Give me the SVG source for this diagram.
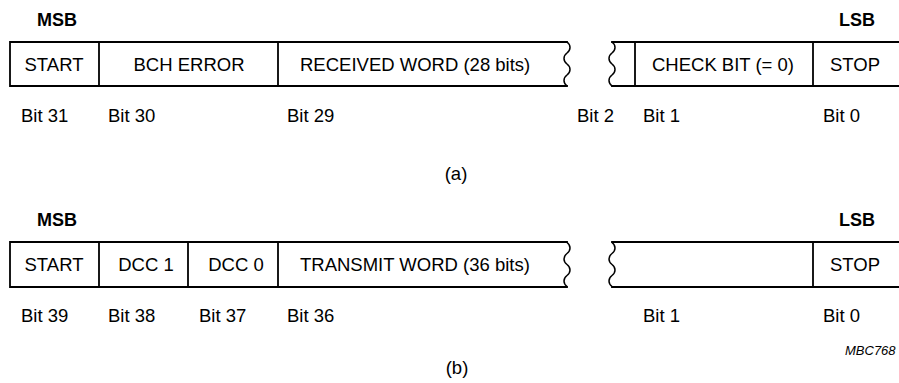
<svg xmlns="http://www.w3.org/2000/svg" width="899" height="383" viewBox="0 0 899 383">
<style>
.ln{fill:none;stroke:#000;stroke-width:1.8;stroke-linecap:square}
.wv{fill:none;stroke:#000;stroke-width:1.5}
text{font-family:"Liberation Sans",Arial,sans-serif;font-size:18.5px;fill:#000}
.b{font-weight:bold;font-size:18px}
.m{text-anchor:middle}
.it{font-style:italic;font-size:13px}
</style>
<rect width="899" height="383" fill="#fff"/>
<defs>
<path id="wave" d="M0,0 c4,3 4,8 0,11 s-4,8 0,11 s4,8 0,11 s-4,8 0,11"/>
</defs>
<g id="frame-a">
<text class="b" x="37" y="26">MSB</text>
<text class="b" x="839" y="26">LSB</text>
<g id="a-left">
<path class="ln" d="M567,42 H10 V86 H567"/>
<use href="#wave" class="wv" x="567" y="42"/>
<line class="ln" x1="99" y1="42" x2="99" y2="86"/>
<line class="ln" x1="278" y1="42" x2="278" y2="86"/>
</g>
<g id="a-right">
<path class="ln" d="M612,42 H905 M612,86 H905"/>
<use href="#wave" class="wv" x="612" y="42"/>
<line class="ln" x1="635" y1="42" x2="635" y2="86"/>
<line class="ln" x1="813" y1="42" x2="813" y2="86"/>
</g>
<g id="a-start"><text class="m" x="54" y="70.5">START</text></g>
<g id="a-bch"><text class="m" x="189" y="70.5">BCH ERROR</text></g>
<g id="a-recv"><text x="300" y="70.5">RECEIVED WORD (28 bits)</text></g>
<g id="a-check"><text class="m" x="723" y="70.5">CHECK BIT (= 0)</text></g>
<g id="a-stop"><text x="830" y="70.5">STOP</text></g>
<text x="21" y="121.5">Bit 31</text>
<text x="108" y="121.5">Bit 30</text>
<text x="287" y="121.5">Bit 29</text>
<text x="577" y="121.5">Bit 2</text>
<text x="643" y="121.5">Bit 1</text>
<text x="823" y="121.5">Bit 0</text>
<text class="m" x="456" y="180">(a)</text>
</g>
<g id="frame-b">
<text class="b" x="37" y="226">MSB</text>
<text class="b" x="839" y="226">LSB</text>
<g id="b-left">
<path class="ln" d="M567,242 H10 V287 H567"/>
<use href="#wave" class="wv" x="567" y="242.5"/>
<line class="ln" x1="99" y1="242" x2="99" y2="287"/>
<line class="ln" x1="188" y1="242" x2="188" y2="287"/>
<line class="ln" x1="278" y1="242" x2="278" y2="287"/>
</g>
<g id="b-right">
<path class="ln" d="M612,242 H905 M612,287 H905"/>
<use href="#wave" class="wv" x="612" y="242.5"/>
<line class="ln" x1="813" y1="242" x2="813" y2="287"/>
</g>
<g id="b-start"><text class="m" x="54" y="271">START</text></g>
<g id="b-dcc1"><text class="m" x="146" y="271">DCC 1</text></g>
<g id="b-dcc0"><text class="m" x="236" y="271">DCC 0</text></g>
<g id="b-trans"><text x="300" y="271">TRANSMIT WORD (36 bits)</text></g>
<g id="b-stop"><text x="830" y="271">STOP</text></g>
<text x="21" y="321.5">Bit 39</text>
<text x="108" y="321.5">Bit 38</text>
<text x="199" y="321.5">Bit 37</text>
<text x="287" y="321.5">Bit 36</text>
<text x="643" y="321.5">Bit 1</text>
<text x="823" y="321.5">Bit 0</text>
<text class="it" x="845" y="355">MBC768</text>
<text class="m" x="457" y="374">(b)</text>
</g>
</svg>
